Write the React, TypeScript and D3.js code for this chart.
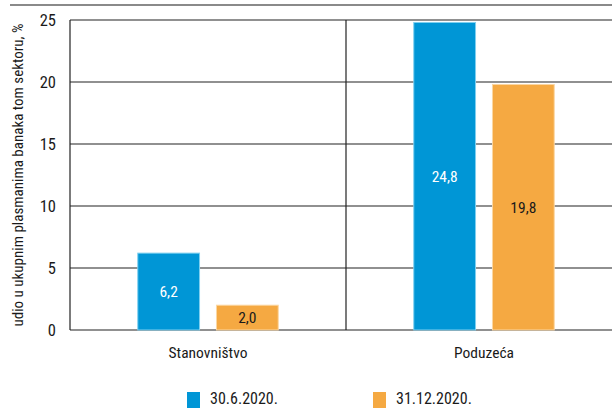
import React from "react";
import * as d3 from "d3";

const categories = ["Stanovništvo", "Poduzeća"];
const seriesNames = ["30.6.2020.", "31.12.2020."];
const seriesJune = [6.2, 24.8];
const seriesDec = [2.0, 19.8];
const yTicks = [0, 5, 10, 15, 20, 25];
const yLabel = "udio u ukupnim plasmanima banaka tom sektoru, %";

const colors = ["#0096d6", "#f5a942"];
const strokes = ["#7fd0f0", "#fbd7a3"];
const labelColors = ["#ffffff", "#1a1a1a"];

const W = 612;
const H = 408;
const left = 70;
const right = 622;
const top = 20;
const bottom = 330;
const FONT = "'Liberation Sans Narrow', 'Arial Narrow', 'Roboto Condensed', sans-serif";

export default function App() {
  const x0 = d3.scaleBand<string>().domain(categories).range([left, right]).padding(0);
  const x1 = d3
    .scaleBand<string>()
    .domain(seriesNames)
    .range([0, x0.bandwidth()])
    .paddingInner(17 / 79)
    .paddingOuter(0.861);
  const y = d3.scaleLinear().domain([0, 25]).range([bottom, top]);
  const series = [seriesJune, seriesDec];
  const fmt = (v: number) => v.toFixed(1).replace(".", ",");

  return (
    <svg
      width={W}
      height={H}
      style={{ position: "absolute", left: 0, top: 0, display: "block" }}
      fontFamily={FONT}
    >
      <rect x={0} y={0} width={W} height={H} fill="#fff" />
      <line x1={10} x2={W} y1={5} y2={5} stroke="#8a8a8a" strokeWidth={2} />
      {yTicks.map((t) => (
        <g key={t}>
          <line x1={left} x2={right} y1={y(t)} y2={y(t)} stroke="#222" strokeWidth={1.2} />
          <text x={56} y={y(t) + 6} textAnchor="end" fontSize={16.5} fill="#1a1a1a">
            {t}
          </text>
        </g>
      ))}
      <line x1={left} x2={left} y1={top} y2={bottom} stroke="#222" strokeWidth={1.2} />
      <line
        x1={x0(categories[1])!}
        x2={x0(categories[1])!}
        y1={top}
        y2={bottom}
        stroke="#222"
        strokeWidth={1.2}
      />
      {categories.map((c, ci) =>
        series.map((s, si) => {
          const bx = x0(c)! + x1(seriesNames[si])!;
          const by = y(s[ci]);
          const bh = y(0) - by;
          return (
            <g key={c + si}>
              <rect
                x={bx}
                y={by}
                width={x1.bandwidth()}
                height={bh}
                fill={colors[si]}
                stroke={strokes[si]}
                strokeWidth={1}
              />
              <text
                x={bx + x1.bandwidth() / 2}
                y={by + bh / 2 + 5.5}
                textAnchor="middle"
                fontSize={15.5}
                fill={labelColors[si]}
              >
                {fmt(s[ci])}
              </text>
            </g>
          );
        })
      )}
      {categories.map((c) => (
        <text
          key={c}
          x={x0(c)! + x0.bandwidth() / 2}
          y={358}
          textAnchor="middle"
          fontSize={15.5}
          fill="#1a1a1a"
        >
          {c}
        </text>
      ))}
      <text
        transform={`translate(23, ${(top + bottom) / 2}) rotate(-90)`}
        textAnchor="middle"
        fontSize={15}
        fill="#1a1a1a"
      >
        {yLabel}
      </text>
      {seriesNames.map((n, i) => {
        const lx = [187, 373][i];
        return (
          <g key={n}>
            <rect x={lx} y={392} width={13} height={16} fill={colors[i]} />
            <text x={lx + 23} y={403.5} fontSize={16} fill="#1a1a1a">
              {n}
            </text>
          </g>
        );
      })}
    </svg>
  );
}
